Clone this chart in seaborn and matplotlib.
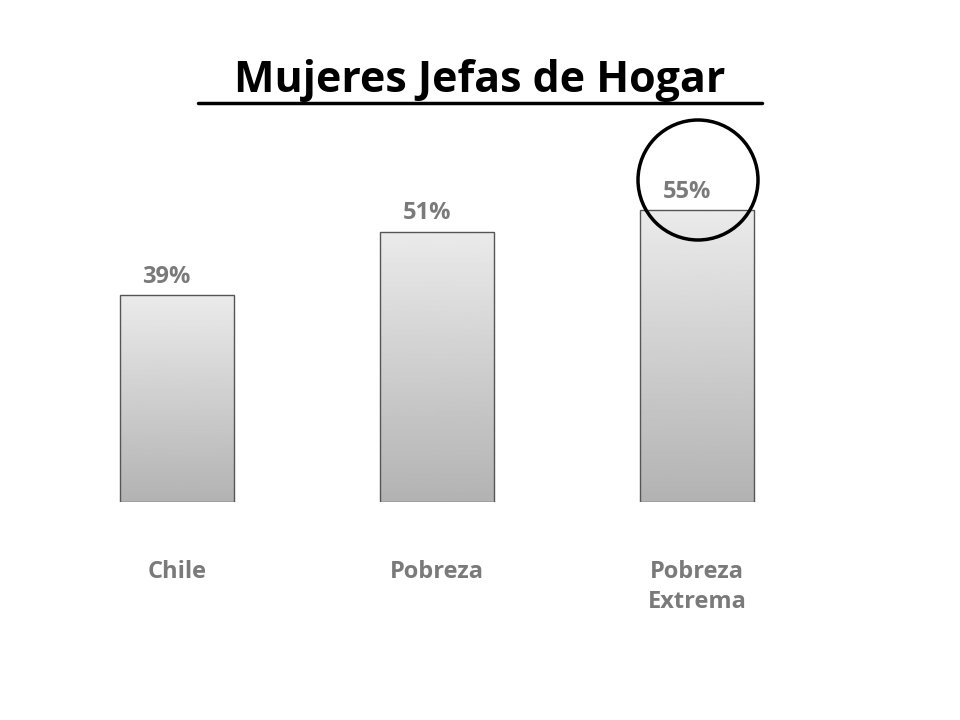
import matplotlib
matplotlib.use("Agg")
import matplotlib.pyplot as plt
import numpy as np
import seaborn as sns
from matplotlib.patches import Ellipse
from matplotlib.lines import Line2D

categories = ["Chile", "Pobreza", "Pobreza\nExtrema"]
values = [39, 51, 55]
value_labels = ["39%", "51%", "55%"]

sns.set_style("white")
plt.rcParams["font.family"] = ["Open Sans", "DejaVu Sans"]

fig = plt.figure(figsize=(9.6, 7.2), dpi=100)
ax = fig.add_axes([47 / 960, 218 / 720, 780 / 960, 424 / 720])

sns.barplot(x=categories, y=values, ax=ax, width=0.44, color="#cccccc",
            edgecolor="#555555", linewidth=1)
ax.set_xlim(-0.5, 2.5)
ax.set_ylim(0, 80)

# vertical gradient fill clipped to each bar
grad = np.linspace(0.92, 0.70, 256).reshape(-1, 1)
for p in ax.patches:
    x0, y0 = p.get_x(), p.get_y()
    w, h = p.get_width(), p.get_height()
    im = ax.imshow(grad, cmap="gray", vmin=0, vmax=1, aspect="auto",
                   extent=[x0, x0 + w, y0, y0 + h], zorder=p.get_zorder() + 0.1)
    im.set_clip_path(p)
    p.set_facecolor("none")
    p.set_zorder(p.get_zorder() + 0.2)
ax.set_xlim(-0.5, 2.5)
ax.set_ylim(0, 80)

for i, (v, lab) in enumerate(zip(values, value_labels)):
    ax.text(i - 0.04, v + 1.2, lab, ha="center", va="bottom", fontsize=17,
            fontweight="bold", color="#7a7a7a")

ax.set_yticks([])
ax.tick_params(axis="x", length=0, pad=42)
ax.set_xticks(range(len(categories)))
ax.set_xticklabels(categories, fontsize=17, fontweight="bold", color="#7a7a7a",
                   linespacing=1.3, va="top")
for s in ax.spines.values():
    s.set_visible(False)

fig.text(0.5, 1 - 80 / 720, "Mujeres Jefas de Hogar", ha="center", va="center",
         fontsize=31, fontweight="bold", color="black")
fig.add_artist(Line2D([198 / 960, 762 / 960], [1 - 103 / 720, 1 - 103 / 720],
                      transform=fig.transFigure, color="black", linewidth=2.5))
fig.add_artist(Ellipse((698 / 960, 1 - 180 / 720), 120 / 960, 120 / 720,
                       transform=fig.transFigure, fill=False,
                       edgecolor="black", linewidth=2.5))

fig.savefig("out.png", dpi=100, facecolor="white")
